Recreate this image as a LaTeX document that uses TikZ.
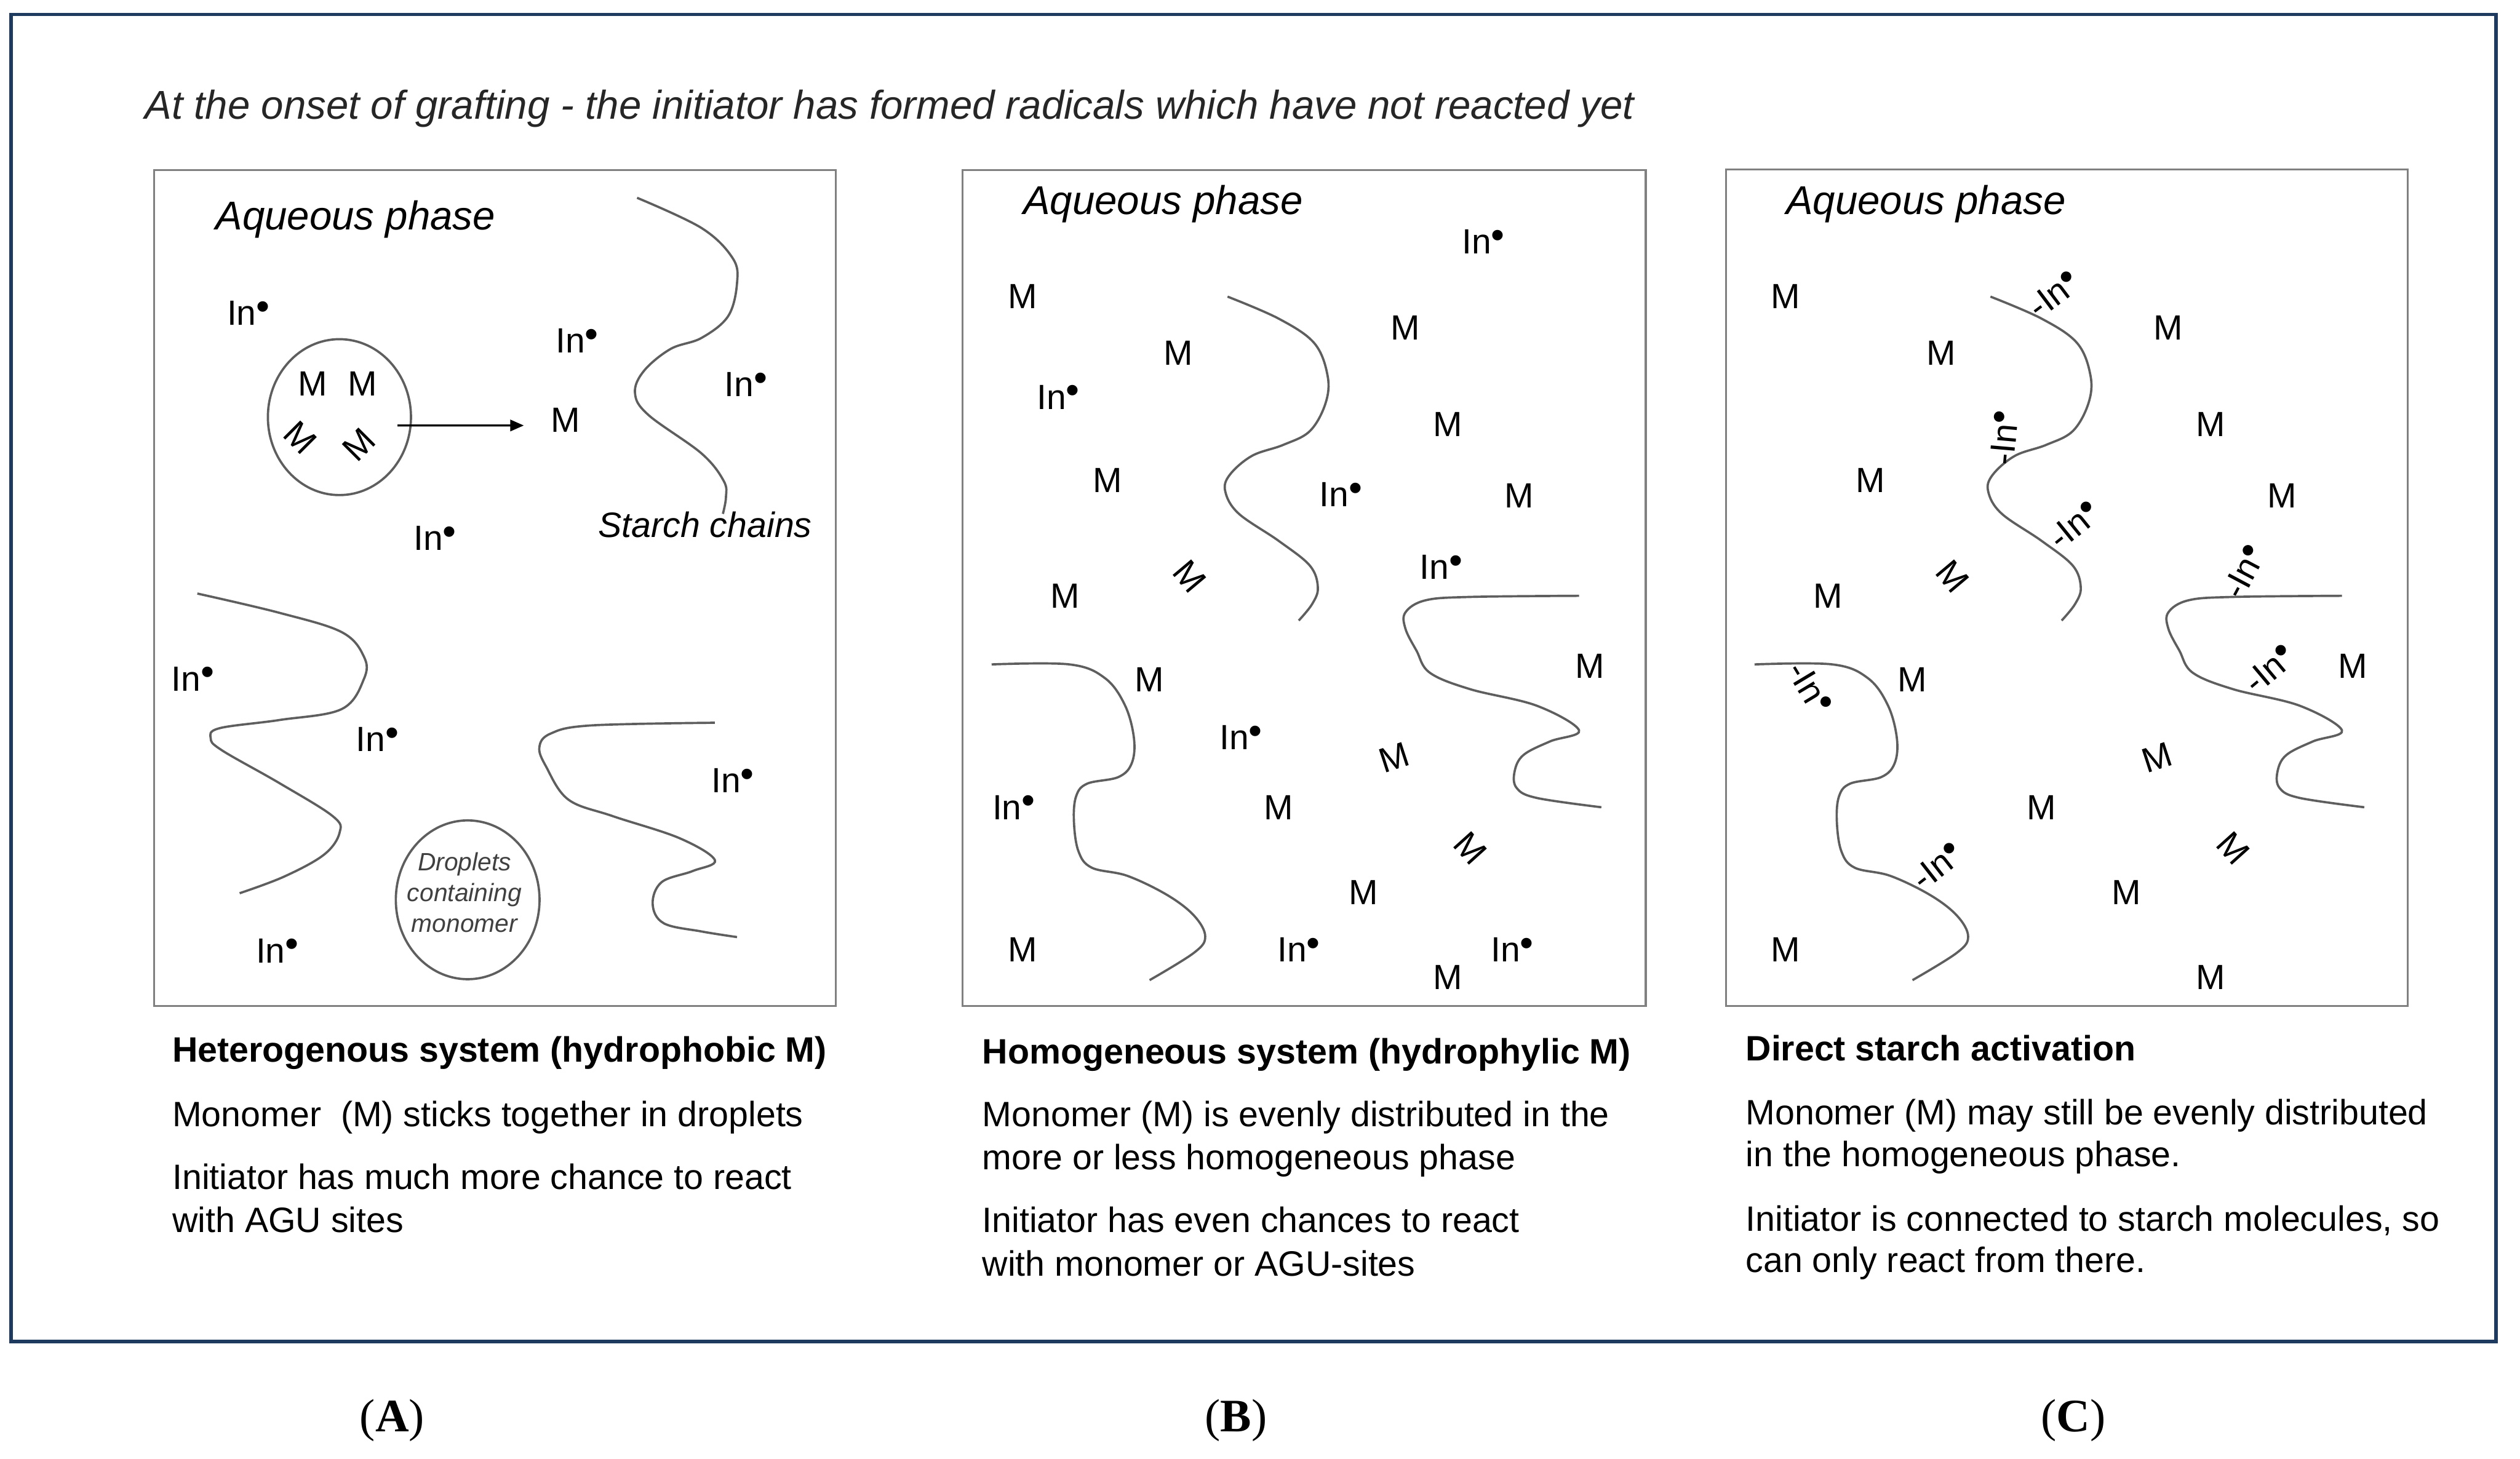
\documentclass[tikz,border=0pt]{standalone}
\usepackage{fontspec}
\setmainfont{Liberation Sans}
\newfontfamily\capfont{Liberation Serif}
\usetikzlibrary{arrows.meta,shapes.geometric}
\definecolor{framenavy}{HTML}{1F3A5F}
\definecolor{boxgray}{HTML}{808080}
\definecolor{chaingray}{HTML}{5E5E5E}
\definecolor{titlegray}{HTML}{262626}
\definecolor{droptext}{HTML}{404040}
\newcommand{\radIn}{In\raisebox{0.16em}{\scalebox{1.1}{\textbullet}}}
\tikzset{
  lbl/.style={font=\fontsize{15.5}{18}\selectfont, inner sep=0pt},
  aqtxt/.style={font=\fontsize{17.8}{21}\selectfont\itshape, anchor=base west, inner sep=0pt},
  titletxt/.style={font=\fontsize{17.8}{21}\selectfont\itshape, text=titlegray, anchor=base west, inner sep=0pt},
  sctxt/.style={font=\fontsize{15.6}{18}\selectfont\itshape, anchor=base west, inner sep=0pt},
  droptxt/.style={font=\fontsize{11.1}{13.6}\selectfont\itshape, text=droptext, align=center, inner sep=0pt},
  bodytxt/.style={font=\fontsize{15.6}{18}\selectfont, anchor=base west, inner sep=0pt},
  headtxt/.style={font=\fontsize{15.6}{18}\selectfont\bfseries, anchor=base west, inner sep=0pt},
  captxt/.style={font=\fontsize{20.6}{24}\selectfont\capfont, anchor=base, inner sep=0pt},
  chainline/.style={draw=chaingray, line width=1pt},
  panel/.style={draw=boxgray, line width=0.85pt},
  dropshape/.style={draw=chaingray, line width=1pt, ellipse, inner sep=0pt},
  arr/.style={draw=black, line width=0.9pt, -{Triangle[length=6pt,width=5pt]}},
}
% curves and monomers shared by panels B and C (C is drawn shifted)
\newcommand{\sharedpanel}[1]{%
  \draw[chainline] plot[smooth, tension=0.6] coordinates {(763.8,184.6) (795.6,198.3) (817.8,213.6) (826.1,234.1) (824.7,251.2) (815.0,268.3) (798.4,276.9) (779.0,283.7) (765.1,295.6) (762.4,305.9) (770.7,319.6) (795.6,336.6) (815.0,352.0) (820.0,365.7) (816.4,376.0) (808.1,386.2)};
  \draw[chainline] plot[smooth, tension=0.6] coordinates {(617.0,413.5) (665.5,413.5) (687.6,422.1) (700.1,439.2) (705.6,459.7) (704.2,475.0) (695.9,483.6) (676.5,487.7) (669.6,495.5) (668.2,510.9) (671.0,529.7) (679.3,540.0) (701.5,545.1) (726.4,557.1) (743.0,569.9) (749.9,582.8) (743.0,592.9) (715.3,610.0)};
  \draw[chainline] plot[smooth, tension=0.6] coordinates {(982.5,370.8) (914.7,371.5) (887.0,373.6) (874.5,381.1) (874.5,391.3) (881.4,405.0) (889.7,418.7) (914.7,428.9) (956.2,439.2) (982.5,454.5) (964.5,461.4) (947.9,469.9) (942.4,480.2) (943.7,490.4) (956.2,496.6) (996.4,502.4)};
  \node[aqtxt] (#1aq) at (636.4,133.3) {Aqueous phase};
  \node[lbl] (#1m1) at (636.4,184.6) {M};
  \node[lbl] (#1m2) at (874.5,204.1) {M};
  \node[lbl] (#1m3) at (733.3,219.8) {M};
  \node[lbl] (#1m4) at (900.8,264.2) {M};
  \node[lbl] (#1m5) at (689.0,299.1) {M};
  \node[lbl] (#1m6) at (945.1,308.6) {M};
  \node[lbl, rotate=-50] (#1m7) at (740.2,358.9) {M};
  \node[lbl] (#1m8) at (662.7,370.8) {M};
  \node[lbl] (#1m9) at (715.3,422.8) {M};
  \node[lbl] (#1m10) at (989.4,414.5) {M};
  \node[lbl, rotate=18] (#1m11) at (867.6,471.6) {M};
  \node[lbl] (#1m12) at (795.6,502.4) {M};
  \node[lbl, rotate=-48] (#1m13) at (914.7,528.0) {M};
  \node[lbl] (#1m14) at (848.2,555.3) {M};
  \node[lbl] (#1m15) at (636.4,591.2) {M};
  \node[lbl] (#1m16) at (900.8,608.3) {M};
}
\begin{document}
\begin{tikzpicture}[x=0.025cm, y=-0.025cm]
\useasboundingbox (0,0) rectangle (1568,907.7);
\fill[white] (0,0) rectangle (1568,907.7);
% outer frame
\draw[framenavy, line width=1.6pt] (7,9) rectangle (1553,835);
\node[titletxt] (title) at (90,74) {At the onset of grafting - the initiator has formed radicals which have not reacted yet};

% ---------------- panel A ----------------
\draw[panel] (96,106) rectangle (520,626);
\node[aqtxt] (aqA) at (133.9,143) {Aqueous phase};
\draw[chainline] plot[smooth, tension=0.6] coordinates {(396.4,123.1) (436.5,141.9) (455.9,160.7) (458.6,176.1) (453.1,196.7) (436.5,210.3) (417.2,217.2) (400.6,230.9) (395.1,244.6) (403.4,258.2) (436.5,282.2) (450.3,299.3) (451.7,309.5) (449.8,319.8)};
\draw[chainline] plot[smooth, tension=0.6] coordinates {(122.8,369.4) (173.9,381.4) (212.6,393.4) (226.5,408.8) (226.5,422.4) (212.6,441.3) (173.9,448.1) (136.6,453.2) (131.1,459.4) (138.0,466.9) (173.9,487.4) (207.1,508.0) (211.3,518.2) (201.6,531.9) (176.7,545.6) (149.1,555.9)};
\draw[chainline] plot[smooth, tension=0.6] coordinates {(444.8,449.8) (367.4,451.5) (342.5,456.6) (335.6,465.1) (339.8,477.1) (353.6,497.6) (381.2,507.9) (422.7,521.6) (444.8,535.3) (431.0,542.1) (411.7,549.0) (406.1,562.6) (413.0,574.6) (436.5,579.7) (458.6,583.2)};
\node[sctxt] (scA) at (372,334.5) {Starch chains};
\node[lbl] (inA1) at (154.6,195) {\radIn};
\node[lbl] (inA2) at (359.1,212) {\radIn};
\node[lbl] (inA3) at (464.2,239.4) {\radIn};
\node[lbl] (inA4) at (270.7,335.1) {\radIn};
\node[lbl] (inA5) at (120,422.4) {\radIn};
\node[lbl] (inA6) at (234.8,460) {\radIn};
\node[lbl] (inA7) at (455.9,485.6) {\radIn};
\node[lbl] (inA8) at (172.6,591.6) {\radIn};
\node[dropshape, minimum width=2.225cm, minimum height=2.425cm] (dropA) at (211.2,259.6) {};
\node[lbl] (mA1) at (194.6,238.8) {M};
\node[lbl] (mA2) at (225.4,238.8) {M};
\node[lbl, rotate=-45] (mA3) at (186.7,272.4) {M};
\node[lbl, rotate=45] (mA4) at (223.2,276.8) {M};
\node[lbl] (mA5) at (351.7,261.6) {M};
\draw[arr] ([xshift=-0.2275cm,yshift=-0.13cm]dropA.east) -- ([xshift=-0.41cm,yshift=-0.08cm]mA5.west);
\node[dropshape, minimum width=2.235cm, minimum height=2.47cm] (dropB) at (291,560) {};
\node[droptxt] (dropT) at (289,555.5) {Droplets\\containing\\monomer};

% ---------------- panel B ----------------
\draw[panel] (599,106) rectangle (1024,626);
\sharedpanel{B}
\node[lbl] (inB1) at (923.0,150.4) {\radIn};
\node[lbl] (inB2) at (658.5,247.1) {\radIn};
\node[lbl] (inB3) at (834.4,307.6) {\radIn};
\node[lbl] (inB4) at (896.7,353.0) {\radIn};
\node[lbl] (inB5) at (772.1,459.0) {\radIn};
\node[lbl] (inB6) at (630.8,502.4) {\radIn};
\node[lbl] (inB7) at (808.1,591.2) {\radIn};
\node[lbl] (inB8) at (941.0,591.2) {\radIn};

% ---------------- panel C ----------------
\draw[panel] (1074,105.5) rectangle (1498,626);
\begin{scope}[shift={(474.7,0)}]
\sharedpanel{C}
\end{scope}
\node[lbl, rotate=37] (inC1) at (1278,183) {-\radIn};
\node[lbl, rotate=85] (inC2) at (1247,272.5) {-\radIn};
\node[lbl, rotate=39] (inC3) at (1290.5,326.7) {-\radIn};
\node[lbl, rotate=62] (inC4) at (1396.5,355.7) {-\radIn};
\node[lbl, rotate=40] (inC5) at (1412.1,416.1) {-\radIn};
\node[lbl, rotate=-59] (inC6) at (1126.3,428.1) {-\radIn};
\node[lbl, rotate=38] (inC7) at (1205.4,538.8) {-\radIn};

% ---------------- texts below ----------------
\node[headtxt] (hA) at (107,661) {Heterogenous system (hydrophobic M)};
\node[bodytxt] (tA1) at (107,701) {Monomer \ (M) sticks together in droplets};
\node[bodytxt] (tA2) at (107,740) {Initiator has much more chance to react};
\node[bodytxt] (tA3) at (107,767) {with AGU sites};

\node[headtxt] (hB) at (611,662) {Homogeneous system (hydrophylic M)};
\node[bodytxt] (tB1) at (611,701) {Monomer (M) is evenly distributed in the};
\node[bodytxt] (tB2) at (611,728) {more or less homogeneous phase};
\node[bodytxt] (tB3) at (611,767) {Initiator has even chances to react};
\node[bodytxt] (tB4) at (611,794) {with monomer or AGU-sites};

\node[headtxt] (hC) at (1086,660) {Direct starch activation};
\node[bodytxt] (tC1) at (1086,700) {Monomer (M) may still be evenly distributed};
\node[bodytxt] (tC2) at (1086,726) {in the homogeneous phase.};
\node[bodytxt] (tC3) at (1086,766) {Initiator is connected to starch molecules, so};
\node[bodytxt] (tC4) at (1086,792) {can only react from there.};

% ---------------- captions ----------------
\node[captxt] (capA) at (244,891) {(\textbf{A})};
\node[captxt] (capB) at (769,891) {(\textbf{B})};
\node[captxt] (capC) at (1290,891) {(\textbf{C})};
\end{tikzpicture}
\end{document}
